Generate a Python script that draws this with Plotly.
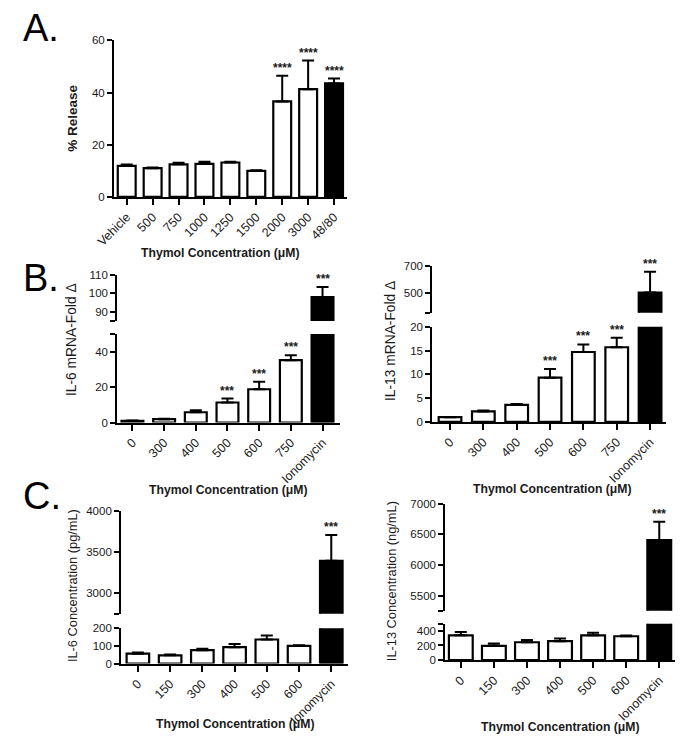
import plotly.graph_objects as go

W, H = 692, 750

# ---------------- data ----------------
a_cats = ["Vehicle", "500", "750", "1000", "1250", "1500", "2000", "3000", "48/80"]
a_vals = [11.9, 11.0, 12.5, 12.7, 13.2, 10.0, 36.6, 41.3, 43.5]
a_errs = [0.5, 0.3, 0.6, 0.8, 0.3, 0.2, 9.9, 11.0, 1.9]
a_stars = ["", "", "", "", "", "", "****", "****", "****"]

b_cats = ["0", "300", "400", "500", "600", "750", "Ionomycin"]
b6_vals = [1.0, 1.9, 5.8, 11.3, 18.8, 35.2, 98.0]
b6_errs = [0.1, 0.3, 1.2, 2.2, 4.2, 2.8, 5.5]
b13_vals = [1.0, 2.2, 3.6, 9.3, 14.7, 15.7, 500.0]
b13_errs = [0.05, 0.2, 0.15, 1.8, 1.6, 2.0, 155.0]
b_stars = ["", "", "", "***", "***", "***", "***"]

c_cats = ["0", "150", "300", "400", "500", "600", "Ionomycin"]
c6_vals = [56, 47, 76, 93, 136, 100, 3395]
c6_errs = [6, 4, 8, 18, 22, 4, 315]
c13_vals = [340, 196, 245, 259, 340, 327, 6405]
c13_errs = [45, 32, 30, 38, 35, 12, 300]
c_stars = ["", "", "", "", "", "", "***"]

FONT = "Liberation Sans, Arial, sans-serif"
TXT = "#1a1a1a"


def px(x):
    return x / W


def py(y):
    return 1 - y / H


panels = [
    dict(cats=a_cats, vals=a_vals, errs=a_errs, stars=a_stars,
         x0=97.7, x1=337, xr=[-0.49, 8.49], bw=0.69,
         lower=(35, 194, [0, 60], [0, 20, 40, 60], ["0", "20", "40", "60"]),
         upper=None),
    dict(cats=b_cats, vals=b6_vals, errs=b6_errs, stars=b_stars,
         x0=101, x1=330, xr=[-0.48, 6.55], bw=0.69,
         lower=(333.3, 423.3, [0, 50], [0, 20, 40, 50], ["0", "20", "40", ""]),
         upper=(273.3, 320, [85, 110], [85, 90, 100, 110], ["", "90", "100", "110"])),
    dict(cats=b_cats, vals=b13_vals, errs=b13_errs, stars=b_stars,
         x0=425, x1=665, xr=[-0.53, 6.47], bw=0.68,
         lower=(326, 422.7, [0, 20], [0, 5, 10, 15, 20], ["0", "5", "10", "15", "20"]),
         upper=(264, 311.7, [350, 700], [350, 500, 700], ["", "500", "700"])),
    dict(cats=c_cats, vals=c6_vals, errs=c6_errs, stars=c_stars,
         x0=105, x1=338, xr=[-0.52, 6.51], bw=0.7,
         lower=(632.3, 668.3, [0, 200], [0, 100, 200], ["0", "100", "200"]),
         upper=(513.3, 617.7, [2750, 4000], [2750, 3000, 3500, 4000], ["", "3000", "3500", "4000"])),
    dict(cats=c_cats, vals=c13_vals, errs=c13_errs, stars=c_stars,
         x0=438.3, x1=675, xr=[-0.47, 6.49], bw=0.72,
         lower=(627.7, 664.7, [0, 500], [0, 200, 400, 500], ["0", "200", "400", ""]),
         upper=(505.7, 614.7, [5250, 7000], [5250, 5500, 6000, 6500, 7000],
                ["", "5500", "6000", "6500", "7000"])),
]

fig = go.Figure()
layout = {}
annotations = []
idx = 0

for p in panels:
    n = len(p["cats"])
    pos = list(range(n))
    colors = ["white"] * (n - 1) + ["black"]
    segs = [("lower", p["lower"])]
    if p["upper"] is not None:
        segs.append(("upper", p["upper"]))
    seg_axes = {}
    for kind, (ytop, ybot, yr, tv, tt) in segs:
        idx += 1
        xn = "x" if idx == 1 else f"x{idx}"
        yn = "y" if idx == 1 else f"y{idx}"
        xkey = "xaxis" if idx == 1 else f"xaxis{idx}"
        ykey = "yaxis" if idx == 1 else f"yaxis{idx}"
        seg_axes[kind] = (xn, yn, yr)
        lower = kind == "lower"
        layout[xkey] = dict(
            domain=[px(p["x0"]), px(p["x1"])], anchor=yn, type="linear",
            range=p["xr"], tickmode="array", tickvals=pos, ticktext=p["cats"],
            visible=lower, showline=lower, linecolor="black", linewidth=2,
            ticks="outside" if lower else "", ticklen=6, tickwidth=2, tickcolor="black",
            tickangle=-45, showgrid=False, zeroline=False,
            tickfont=dict(family=FONT, size=12.5, color=TXT),
            fixedrange=True,
        )
        layout[ykey] = dict(
            domain=[py(ybot), py(ytop)], anchor=xn, range=yr,
            showline=True, linecolor="black", linewidth=2,
            ticks="outside", ticklen=5, tickwidth=2, tickcolor="black",
            tickmode="array", tickvals=tv, ticktext=tt,
            showgrid=False, zeroline=False,
            tickfont=dict(family=FONT, size=11.5, color=TXT),
            fixedrange=True,
        )
        fig.add_trace(go.Bar(
            x=pos, y=p["vals"], xaxis=xn, yaxis=yn, width=p["bw"],
            marker=dict(color=colors, line=dict(color="black", width=2.2)),
            error_y=dict(type="data", array=p["errs"], arrayminus=[0] * n,
                         symmetric=False, color="black", thickness=2, width=6),
            showlegend=False, hoverinfo="skip",
        ))
    # significance stars
    for i, v, e, s in zip(pos, p["vals"], p["errs"], p["stars"]):
        if not s:
            continue
        top = v + e
        xn, yn, yr = seg_axes["lower"]
        if top > yr[1] and "upper" in seg_axes:
            xn, yn, yr = seg_axes["upper"]
        annotations.append(dict(
            x=i, y=top, xref=xn, yref=yn, text=f"<b>{s}</b>", showarrow=False,
            yanchor="bottom", yshift=-1,
            font=dict(family=FONT, size=12, color=TXT)))

# axis titles
x_titles = [(207, 251), (215, 492), (548, 491), (222, 730), (556, 733)]
for xc, yc in x_titles:
    annotations.append(dict(
        x=px(xc), y=py(yc), xref="paper", yref="paper", showarrow=False,
        text="<b>Thymol Concentration (μM)</b>", xanchor="center", yanchor="middle",
        font=dict(family=FONT, size=12.2, color=TXT)))

y_titles = [
    ("<b>% Release</b>", 55, 114, 13.5),
    ("IL-6 mRNA-Fold Δ", 54, 339, 13.8),
    ("IL-13 mRNA-Fold Δ", 382, 341, 13.8),
    ("IL-6 Concentration (pg/mL)", 55, 589, 12.8),
    ("IL-13 Concentration (ng/mL)", 383, 584, 12.8),
]
for t, xc, yc, fs in y_titles:
    annotations.append(dict(
        x=px(xc), y=py(yc), xref="paper", yref="paper", showarrow=False,
        text=t, textangle=-90, xanchor="center", yanchor="middle",
        font=dict(family=FONT, size=fs, color=TXT)))

# panel letters
for t, yc in [("A.", 22), ("B.", 276), ("C.", 498)]:
    annotations.append(dict(
        x=px(2), y=py(yc), xref="paper", yref="paper", showarrow=False,
        text=t, xanchor="left", yanchor="middle",
        font=dict(family=FONT, size=38, color="black")))

fig.update_layout(
    width=W, height=H, margin=dict(l=0, r=0, t=0, b=0),
    paper_bgcolor="white", plot_bgcolor="white",
    showlegend=False, annotations=annotations,
    **layout,
)

fig.write_html("out.html", config={"displayModeBar": False},
               post_script="document.body.style.margin='0';document.body.style.overflow='hidden';")
